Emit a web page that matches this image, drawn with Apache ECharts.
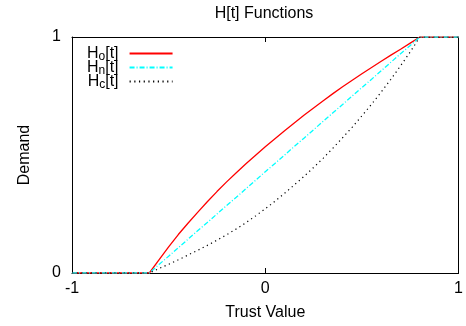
<!DOCTYPE html>
<html>
<head>
<meta charset="utf-8">
<script src="https://cdn.jsdelivr.net/npm/echarts@6/dist/echarts.min.js"></script>
<style>html,body{margin:0;padding:0;background:#fff}#c{width:466px;height:326px}</style>
</head>
<body>
<div id="c"></div>
<script>
// Trust value (x) and the three H[t] functions
var trustValues = [-1, -0.6, -0.55, -0.5, -0.45, -0.4, -0.35, -0.3, -0.25, -0.2, -0.15, -0.1, -0.05, 0,
  0.05, 0.1, 0.15, 0.2, 0.25, 0.3, 0.35, 0.4, 0.45, 0.5, 0.55, 0.6, 0.65, 0.7, 0.75, 0.8, 1];
var hO = [0, 0, 0.056, 0.111, 0.163, 0.211, 0.257, 0.302, 0.345, 0.386, 0.425, 0.463, 0.499, 0.535,
  0.569, 0.603, 0.636, 0.668, 0.699, 0.730, 0.760, 0.789, 0.817, 0.844, 0.871, 0.897, 0.923, 0.948, 0.974, 1, 1];
var hN = [0, 0, 0.036, 0.071, 0.107, 0.143, 0.179, 0.214, 0.25, 0.286, 0.321, 0.357, 0.393, 0.429,
  0.464, 0.5, 0.536, 0.571, 0.607, 0.643, 0.679, 0.714, 0.75, 0.786, 0.821, 0.857, 0.893, 0.929, 0.964, 1, 1];
var hC = [0, 0, 0.019, 0.037, 0.056, 0.076, 0.096, 0.117, 0.139, 0.162, 0.187, 0.213, 0.242, 0.272,
  0.304, 0.338, 0.373, 0.409, 0.447, 0.487, 0.529, 0.573, 0.618, 0.666, 0.715, 0.767, 0.821, 0.878, 0.937, 1, 1];
var seriesNames = ['Ho', 'Hn', 'Hc'];
var legendLabels = {Ho: '{m|H}{sub|o}{m|[t]}', Hn: '{m|H}{sub|n}{m|[t]}', Hc: '{m|H}{sub|c}{m|[t]}'};
var xTicks = [-1, 0, 1];

function pairs(ys) { return trustValues.map(function (x, i) { return [x, ys[i]]; }); }

var FONT = 'Liberation Sans, Arial, Helvetica, sans-serif';
var chart = echarts.init(document.getElementById('c'), null, {renderer: 'canvas'});
function axisCommon() {
  return {
    axisLine: {show: true, onZero: false, lineStyle: {color: '#000', width: 1}},
    axisTick: {show: true, inside: true, length: 5, lineStyle: {color: '#000'}},
    splitLine: {show: false}
  };
}
chart.setOption({
  animation: false,
  backgroundColor: '#fff',
  title: {
    text: 'H[t] Functions', left: 264, top: 6, padding: 0, textAlign: 'center',
    textStyle: {fontFamily: FONT, fontSize: 16, fontWeight: 'normal', color: '#000'}
  },
  grid: {left: 72, right: 7, top: 37, bottom: 53},
  legend: {
    orient: 'vertical', left: 87, top: 45.5, padding: 0, align: 'right',
    itemWidth: 43, itemHeight: 14, itemGap: -3,
    data: seriesNames,
    itemStyle: {opacity: 0, borderWidth: 0},
    formatter: function (n) { return legendLabels[n]; },
    textStyle: {fontFamily: FONT, fontSize: 16, color: '#000', padding: [0, 6, 0, 0],
      rich: {
        m: {fontFamily: FONT, fontSize: 16, color: '#000'},
        sub: {fontFamily: FONT, fontSize: 12, color: '#000', padding: [6, 0, 0, 0]}
      }}
  },
  xAxis: [
    Object.assign({type: 'value', min: -1, max: 1, interval: 1, position: 'bottom',
      name: 'Trust Value', nameLocation: 'middle', nameGap: 32,
      nameTextStyle: {fontFamily: FONT, fontSize: 16, color: '#000'},
      axisLabel: {margin: 8, fontFamily: FONT, fontSize: 16, color: '#000',
        customValues: xTicks, formatter: function (v) { return String(v); }}}, axisCommon()),
    Object.assign({type: 'value', min: -1, max: 1, interval: 1, position: 'top',
      axisLabel: {show: false}}, axisCommon())
  ],
  yAxis: [
    Object.assign({type: 'value', min: 0, max: 1, interval: 1, position: 'left',
      name: 'Demand', nameLocation: 'middle', nameGap: 39,
      nameTextStyle: {fontFamily: FONT, fontSize: 16, color: '#000'},
      axisLabel: {margin: 11, fontFamily: FONT, fontSize: 16, color: '#000'}}, axisCommon()),
    Object.assign({type: 'value', min: 0, max: 1, interval: 1, position: 'right',
      axisLabel: {show: false}}, axisCommon())
  ],
  series: [
    {name: 'Ho', type: 'line', data: pairs(hO), showSymbol: false, symbol: 'none',
      lineStyle: {color: '#ff0000', width: 1.3, type: 'solid'}, itemStyle: {color: '#ff0000'}},
    {name: 'Hn', type: 'line', data: pairs(hN), showSymbol: false, symbol: 'none',
      lineStyle: {color: '#00ffff', width: 1.3, type: [5, 2, 1, 2]}, itemStyle: {color: '#00ffff'}},
    {name: 'Hc', type: 'line', data: pairs(hC), showSymbol: false, symbol: 'none',
      lineStyle: {color: '#000000', width: 1.2, type: [1.2, 3.5]}, itemStyle: {color: '#000000'}}
  ]
});
</script>
</body>
</html>
